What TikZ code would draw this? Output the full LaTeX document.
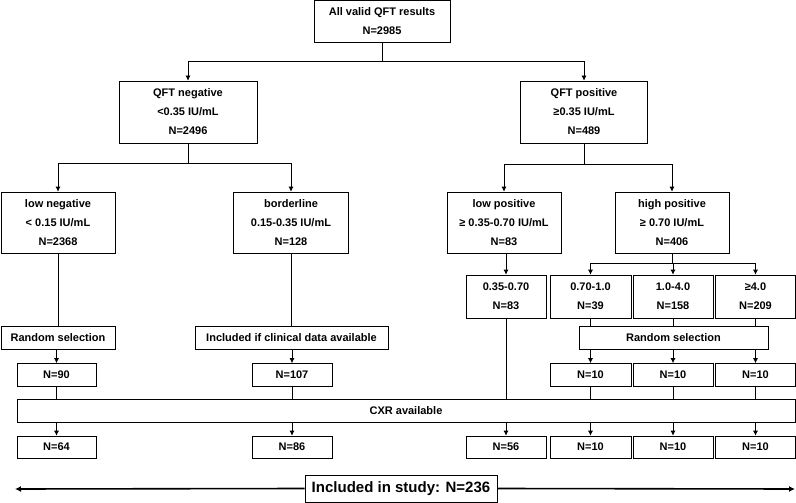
\documentclass[tikz,border=0pt]{standalone}
\usepackage{fontspec}
\setmainfont{Liberation Sans}
\usetikzlibrary{arrows.meta}
\begin{document}
\begin{tikzpicture}[x=1pt, y=-1pt,
  box/.style={draw, rectangle, line width=0.7pt, inner sep=0pt, align=center, font=\fontsize{11}{19}\selectfont\bfseries},
  link/.style={line width=0.7pt},
  arr/.style={line width=0.7pt, -{Latex[length=5pt,width=5pt]}},
  bigarr/.style={line width=1.6pt, -{Latex[length=6pt,width=6pt]}}]
  \useasboundingbox (0,0) rectangle (796,503);

  \node[box, minimum width=136pt, minimum height=42pt] (all) at (382,21.5) {All valid QFT results\\N=2985};
  \node[box, minimum width=138pt, minimum height=62pt] (neg) at (188,112) {QFT negative\\<0.35 IU/mL\\N=2496};
  \node[box, minimum width=127pt, minimum height=62pt] (pos) at (584,112) {QFT positive\\≥0.35 IU/mL\\N=489};

  \node[box, minimum width=114pt, minimum height=61pt] (lowneg) at (58,222.5) {low negative\\< 0.15 IU/mL\\N=2368};
  \node[box, minimum width=115pt, minimum height=61pt] (border) at (291,222.5) {borderline\\0.15-0.35 IU/mL\\N=128};
  \node[box, minimum width=114pt, minimum height=61pt] (lowpos) at (504,222.5) {low positive\\≥ 0.35-0.70 IU/mL\\N=83};
  \node[box, minimum width=114pt, minimum height=61pt] (highpos) at (672,222.5) {high positive\\≥ 0.70 IU/mL\\N=406};

  \node[box, minimum width=80pt, minimum height=43pt] (r035) at (506,296.5) {0.35-0.70\\N=83};
  \node[box, minimum width=81pt, minimum height=43pt] (r070) at (590.5,296.5) {0.70-1.0\\N=39};
  \node[box, minimum width=80pt, minimum height=43pt] (r10) at (673,296.5) {1.0-4.0\\N=158};
  \node[box, minimum width=80pt, minimum height=43pt] (r40) at (755.5,296.5) {≥4.0\\N=209};

  \node[box, minimum width=114pt, minimum height=23pt] (randL) at (58,337.5) {Random selection};
  \node[box, minimum width=193pt, minimum height=23pt] (incl) at (291.5,337.5) {Included if clinical data available};
  \node[box, minimum width=189pt, minimum height=23pt] (randR) at (673.5,337.5) {Random selection};

  \node[box, minimum width=79pt, minimum height=23pt] (n90) at (56.5,375) {N=90};
  \node[box, minimum width=80pt, minimum height=23pt] (n107) at (292,375) {N=107};
  \node[box, minimum width=81pt, minimum height=23pt] (n10a) at (590.5,375) {N=10};
  \node[box, minimum width=80pt, minimum height=23pt] (n10b) at (673,375) {N=10};
  \node[box, minimum width=80pt, minimum height=23pt] (n10c) at (755.5,375) {N=10};

  \node[box, minimum width=778pt, minimum height=23pt] (cxr) at (406,410.5) {CXR available};

  \node[box, minimum width=79pt, minimum height=22pt] (n64) at (56.5,447) {N=64};
  \node[box, minimum width=80pt, minimum height=22pt] (n86) at (292,447) {N=86};
  \node[box, minimum width=80pt, minimum height=22pt] (n56) at (506,447) {N=56};
  \node[box, minimum width=81pt, minimum height=22pt] (f10a) at (590.5,447) {N=10};
  \node[box, minimum width=80pt, minimum height=22pt] (f10b) at (673,447) {N=10};
  \node[box, minimum width=80pt, minimum height=22pt] (f10c) at (755.5,447) {N=10};

  \node[box, line width=0.9pt, minimum width=192pt, minimum height=27pt, font=\fontsize{15}{18}\selectfont\bfseries] (study) at (401,488.5) {Included in study: N=236};
  \coordinate (leftend) at (15,489);
  \coordinate (rightend) at (795,489);

  \coordinate (splitall) at (382,61);
  \coordinate (splitneg) at (188,163);
  \coordinate (splitpos) at (584,164);
  \coordinate (splithigh) at (672,263);

  \draw[link] (all) -- (splitall);
  \draw[arr] (splitall) -| (neg.north);
  \draw[arr] (splitall) -| (pos.north);

  \draw[link] (neg) -- (splitneg);
  \draw[arr] (splitneg) -| (lowneg.north);
  \draw[arr] (splitneg) -| (border.north);
  \draw[link] (pos) -- (splitpos);
  \draw[arr] (splitpos) -| (lowpos.north);
  \draw[arr] (splitpos) -| (highpos.north);

  \draw[arr] (r035.north |- lowpos.south) -- (r035.north);
  \draw[link] (highpos) -- (splithigh);
  \draw[arr] (splithigh) -| (r070.north);
  \draw[arr] (splithigh) -| (r10.north);
  \draw[arr] (splithigh) -| (r40.north);

  \draw[link] (lowneg.south) -- (lowneg.south |- randL.north);
  \draw[link] (border.south) -- (border.south |- incl.north);
  \draw[link] (r070.south) -- (r070.south |- randR.north);
  \draw[link] (r10.south) -- (r10.south |- randR.north);
  \draw[link] (r40.south) -- (r40.south |- randR.north);

  \draw[arr] (n90.north |- randL.south) -- (n90.north);
  \draw[arr] (n107.north |- incl.south) -- (n107.north);
  \draw[arr] (n10a.north |- randR.south) -- (n10a.north);
  \draw[arr] (n10b.north |- randR.south) -- (n10b.north);
  \draw[arr] (n10c.north |- randR.south) -- (n10c.north);

  \draw[link] (n90.south) -- (n90.south |- cxr.north);
  \draw[link] (n107.south) -- (n107.south |- cxr.north);
  \draw[link] (r035.south) -- (r035.south |- cxr.north);
  \draw[link] (n10a.south) -- (n10a.south |- cxr.north);
  \draw[link] (n10b.south) -- (n10b.south |- cxr.north);
  \draw[link] (n10c.south) -- (n10c.south |- cxr.north);

  \draw[arr] (n64.north |- cxr.south) -- (n64.north);
  \draw[arr] (n86.north |- cxr.south) -- (n86.north);
  \draw[arr] (n56.north |- cxr.south) -- (n56.north);
  \draw[arr] (f10a.north |- cxr.south) -- (f10a.north);
  \draw[arr] (f10b.north |- cxr.south) -- (f10b.north);
  \draw[arr] (f10c.north |- cxr.south) -- (f10c.north);

  \draw[bigarr] (study.west) -- (leftend);
  \draw[bigarr] (study.east) -- (rightend);
\end{tikzpicture}
\end{document}
